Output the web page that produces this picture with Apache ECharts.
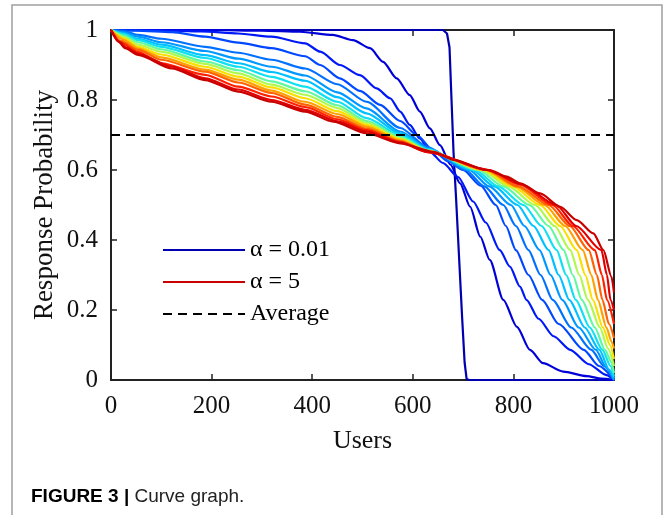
<!DOCTYPE html>
<html>
<head>
<meta charset="utf-8">
<script src="https://cdn.jsdelivr.net/npm/echarts@6/dist/echarts.min.js"></script>
<style>
  html, body { margin: 0; padding: 0; background: #fff; }
  #chart { width: 667px; height: 515px; }
</style>
</head>
<body>
<div id="chart"></div>
<script>
// response probability per user, one curve per alpha (0.01 -> 5)
const alphaLow = [[0,1],[660,1],[668,0.99],[673,0.95],[677,0.8],[681,0.65],[686,0.52],[692,0.35],[698,0.18],[703,0.05],[707,0.003],[712,0],[1000,0]];
const curve02 = [[0,1],[200,1],[300,0.998],[376,0.995],[441,0.986],[481,0.971],[515,0.948],[541,0.909],[568,0.862],[594,0.814],[614,0.767],[634,0.719],[654,0.671],[675,0.615],[694,0.562],[714,0.495],[734,0.41],[753,0.343],[780,0.229],[807,0.152],[833,0.086],[859,0.048],[899,0.024],[946,0.011],[975,0.004],[1000,0]];
const curve03 = [[0,1],[100,0.999],[180,0.996],[253,0.99],[319,0.981],[386,0.962],[416,0.938],[455,0.9],[495,0.871],[528,0.833],[555,0.805],[575,0.767],[594,0.729],[614,0.69],[634,0.652],[660,0.62],[690,0.58],[720,0.51],[745,0.45],[773,0.371],[793,0.324],[813,0.267],[826,0.229],[850,0.175],[880,0.125],[913,0.086],[950,0.045],[985,0.014],[1000,0]];
const curve04 = [[0,1],[50,0.998],[121,0.994],[187,0.981],[253,0.964],[319,0.948],[386,0.925],[416,0.9],[455,0.862],[495,0.826],[535,0.786],[575,0.74],[608,0.7],[641,0.655],[670,0.625],[700,0.6],[735,0.555],[765,0.5],[785,0.44],[805,0.371],[830,0.3],[857,0.229],[890,0.16],[940,0.086],[970,0.04],[1000,0]];
const curve05 = [[0,1],[25,0.997],[54,0.986],[100,0.975],[187,0.952],[253,0.935],[319,0.915],[386,0.89],[450,0.845],[508,0.795],[575,0.72],[630,0.665],[705,0.6],[742,0.553],[780,0.5],[805,0.44],[830,0.371],[854,0.3],[878,0.229],[915,0.15],[955,0.086],[980,0.04],[1000,0]];
const curve06 = [[0,1],[25,0.993],[54,0.981],[100,0.965],[187,0.94],[253,0.918],[319,0.895],[386,0.87],[450,0.822],[508,0.776],[575,0.71],[630,0.662],[712,0.6],[752,0.553],[795,0.5],[822,0.44],[852,0.371],[874,0.3],[897,0.229],[930,0.15],[964,0.086],[985,0.035],[1000,0]];
const curve07 = [[0,1],[25,0.99],[54,0.975],[100,0.958],[187,0.928],[253,0.905],[319,0.88],[386,0.855],[450,0.808],[508,0.762],[575,0.705],[630,0.66],[718,0.6],[762,0.553],[808,0.5],[840,0.44],[870,0.371],[890,0.3],[911,0.229],[942,0.15],[971,0.086],[990,0.03],[1000,0.005]];
const curve08 = [[0,1],[25,0.988],[54,0.971],[100,0.952],[187,0.92],[253,0.895],[319,0.866],[386,0.838],[450,0.795],[508,0.748],[575,0.7],[630,0.658],[724,0.6],[770,0.553],[820,0.5],[856,0.44],[886,0.371],[905,0.3],[924,0.229],[952,0.15],[977,0.086],[993,0.04],[1000,0.01]];
const curve09 = [[0,1],[25,0.984],[54,0.965],[100,0.945],[187,0.91],[253,0.885],[319,0.853],[386,0.825],[450,0.785],[508,0.74],[575,0.695],[630,0.656],[730,0.6],[780,0.553],[832,0.5],[870,0.44],[900,0.371],[918,0.3],[936,0.229],[962,0.15],[982,0.086],[995,0.05],[1000,0.02]];
const curve10 = [[0,1],[25,0.98],[54,0.958],[100,0.938],[187,0.903],[253,0.876],[319,0.844],[386,0.815],[450,0.777],[508,0.735],[575,0.69],[630,0.655],[736,0.6],[790,0.553],[843,0.5],[882,0.44],[913,0.371],[931,0.3],[948,0.229],[972,0.15],[988,0.09],[1000,0.04]];
const curve11 = [[0,1],[25,0.976],[54,0.952],[100,0.93],[187,0.895],[253,0.867],[319,0.836],[386,0.805],[450,0.768],[508,0.729],[575,0.688],[630,0.654],[740,0.6],[798,0.553],[853,0.5],[893,0.44],[926,0.371],[943,0.3],[958,0.229],[978,0.15],[992,0.1],[1000,0.06]];
const curve12 = [[0,1],[25,0.972],[54,0.947],[100,0.922],[187,0.887],[253,0.858],[319,0.827],[386,0.795],[450,0.76],[508,0.724],[575,0.685],[630,0.653],[744,0.6],[805,0.553],[862,0.5],[903,0.44],[938,0.371],[955,0.3],[968,0.229],[985,0.15],[995,0.11],[1000,0.09]];
const curve13 = [[0,1],[20,0.968],[54,0.943],[100,0.915],[187,0.881],[253,0.85],[319,0.82],[386,0.787],[450,0.752],[508,0.718],[575,0.682],[630,0.652],[747,0.6],[810,0.553],[870,0.5],[912,0.44],[950,0.371],[966,0.3],[977,0.229],[990,0.16],[1000,0.12]];
const curve14 = [[0,1],[18,0.965],[54,0.937],[100,0.905],[187,0.872],[253,0.838],[319,0.81],[386,0.78],[450,0.745],[508,0.714],[575,0.68],[630,0.651],[750,0.6],[813,0.558],[878,0.5],[918,0.44],[962,0.371],[976,0.3],[986,0.229],[1000,0.16]];
const curve15 = [[0,1],[16,0.966],[30,0.95],[54,0.932],[121,0.895],[187,0.862],[253,0.83],[319,0.8],[386,0.772],[450,0.739],[508,0.71],[575,0.678],[630,0.651],[752,0.6],[815,0.56],[885,0.5],[925,0.44],[975,0.371],[986,0.3],[993,0.229],[1000,0.2]];
const alphaHigh = [[0,1],[15,0.967],[28,0.948],[54,0.929],[121,0.89],[187,0.857],[253,0.824],[319,0.795],[386,0.767],[442,0.738],[508,0.705],[575,0.676],[641,0.652],[681,0.629],[747,0.6],[787,0.581],[813,0.562],[853,0.533],[893,0.495],[926,0.457],[959,0.419],[979,0.371],[995,0.295],[1000,0.25]];
const averageLevel = 0.7;
const userRange = [0, 1000];

const curveData = [alphaLow, curve02, curve03, curve04, curve05, curve06, curve07, curve08,
  curve09, curve10, curve11, curve12, curve13, curve14, curve15, alphaHigh];
// jet-like colours, blue -> red
const curveColors = ['#0000b0', '#0000d8', '#0018f8', '#0048ff', '#0070ff', '#0098ff', '#00c0ff', '#10e0f0',
  '#60f8a0', '#b0f850', '#f8e000', '#ffa000', '#ff6000', '#ff2000', '#e00000', '#c80000'];

const serif = 'Liberation Serif';
const chart = echarts.init(document.getElementById('chart'));

const series = curveData.map((d, i) => {
  let name = 'a' + i;
  if (i === 0) name = 'α = 0.01';
  if (i === curveData.length - 1) name = 'α = 5';
  return {
    name: name,
    type: 'line',
    data: d,
    symbol: 'none',
    smooth: i === 0 ? false : 0.25,
    smoothMonotone: 'x',
    lineStyle: { width: 2.2, color: curveColors[i] },
    itemStyle: { color: curveColors[i] }
  };
});
series.push({
  name: 'Average',
  type: 'line',
  data: userRange.map(u => [u, averageLevel]),
  symbol: 'none',
  lineStyle: { width: 2, color: '#000', type: [9, 6] },
  itemStyle: { color: '#000' },
  z: 5
});

const ticks = () => ({ show: true, inside: true, length: 6, lineStyle: { color: '#222', width: 1.5 } });
const axisLine = () => ({ show: true, onZero: false, lineStyle: { color: '#222', width: 2 } });
const label = (m) => ({ fontFamily: serif, fontSize: 25, color: '#111', margin: m, formatter: v => String(v) });

chart.setOption({
  animation: false,
  backgroundColor: '#fff',
  title: {
    left: 26,
    top: 482,
    text: '{b|FIGURE 3 |} Curve graph.',
    textStyle: {
      fontFamily: 'Liberation Sans, sans-serif',
      fontSize: 19, fontWeight: 'normal', color: '#222',
      rich: { b: { fontFamily: 'Liberation Sans, sans-serif', fontSize: 19, fontWeight: 'bold', color: '#000' } }
    }
  },
  graphic: [{
    type: 'rect',
    shape: { x: 12, y: 5, width: 650, height: 530 },
    style: { fill: 'none', stroke: '#a0a0a0', lineWidth: 1.5 },
    silent: true
  }],
  legend: {
    data: ['α = 0.01', 'α = 5', 'Average'],
    orient: 'vertical',
    left: 157,
    top: 232,
    itemWidth: 82,
    itemHeight: 14,
    itemGap: 6,
    itemStyle: { opacity: 0 },
    textStyle: { fontFamily: serif, fontSize: 24, color: '#000', lineHeight: 26 }
  },
  grid: { left: 111, right: 53, top: 30, bottom: 135 },
  xAxis: [{
    type: 'value', min: 0, max: 1000, interval: 200,
    name: 'Users', nameLocation: 'middle', nameGap: 48,
    nameTextStyle: { fontFamily: serif, fontSize: 26, color: '#111' },
    axisLine: axisLine(), axisTick: ticks(),
    axisLabel: label(14),
    splitLine: { show: false }
  }, {
    type: 'value', min: 0, max: 1000, interval: 200, position: 'top',
    axisLine: axisLine(), axisTick: ticks(),
    axisLabel: { show: false }, splitLine: { show: false }
  }],
  yAxis: [{
    type: 'value', min: 0, max: 1, interval: 0.2,
    name: 'Response Probability', nameLocation: 'middle', nameGap: 53,
    nameMoveOverlap: false,
    nameTextStyle: { fontFamily: serif, fontSize: 27, color: '#111' },
    axisLine: axisLine(), axisTick: ticks(),
    axisLabel: label(13),
    splitLine: { show: false }
  }, {
    type: 'value', min: 0, max: 1, interval: 0.2, position: 'right',
    axisLine: axisLine(), axisTick: ticks(),
    axisLabel: { show: false }, splitLine: { show: false }
  }],
  series: series
});
</script>
</body>
</html>
